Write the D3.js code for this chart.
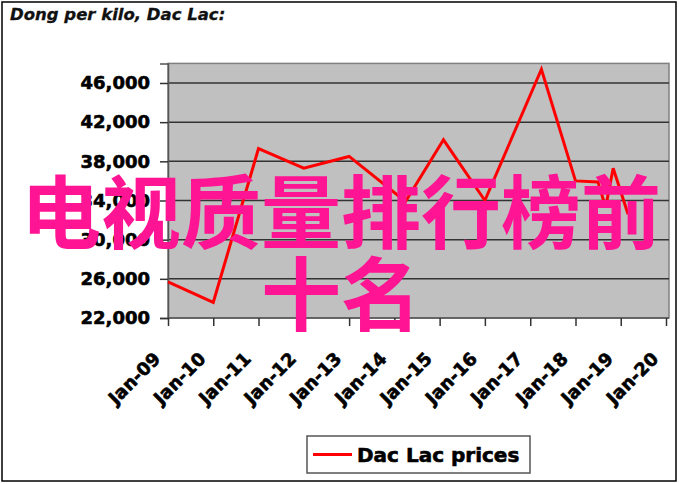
<!DOCTYPE html>
<html>
<head>
<meta charset="utf-8">
<script src="https://cdn.jsdelivr.net/npm/d3@7"></script>
<style>
  html, body { margin: 0; padding: 0; background: #fff; }
  svg { display: block; }
</style>
</head>
<body>
<svg id="chart" width="679" height="484"></svg>
<script>
// ---- data ----
const dates = ["2009-01-01","2010-01-01","2011-01-01","2012-01-01","2013-01-01","2014-04-01","2015-02-01","2016-01-01","2017-04-01","2018-01-01","2018-07-01","2018-09-01","2018-11-01","2019-03-01"];
const prices = [25700, 23600, 39300, 37300, 38500, 33900, 40200, 34000, 47400, 36000, 35900, 33300, 37300, 32600];
const yTicks = [22000, 26000, 30000, 34000, 38000, 42000, 46000];
const xTickYears = [2009, 2010, 2011, 2012, 2013, 2014, 2015, 2016, 2017, 2018, 2019, 2020];
const titleText = "Dong per kilo, Dac Lac:";
const seriesName = "Dac Lac prices";
const overlayLines = ["电视质量排行榜前", "十名"];

const parse = d3.timeParse("%Y-%m-%d");
const data = dates.map((d, i) => ({ date: parse(d), value: prices[i] }));

const svg = d3.select("#chart");
const W = 679, H = 484;

// outer frame
svg.append("rect").attr("x", 2).attr("y", 2).attr("width", W - 5).attr("height", H - 5)
  .attr("fill", "#fff").attr("stroke", "#000").attr("stroke-width", 1.5);

// title
svg.append("text").attr("x", 10).attr("y", 20)
  .attr("font-family", "DejaVu Sans").attr("font-weight", "bold").attr("font-style", "italic")
  .attr("font-size", 16.5).attr("fill", "#111").attr("stroke", "#111").attr("stroke-width", 0.3)
  .text(titleText);

const plot = { left: 168, top: 63.4, right: 669, bottom: 318 };

const x = d3.scaleTime()
  .domain([new Date(2009, 0, 1), new Date(2020, 0, 1)])
  .range([plot.left, 666]);
const y = d3.scaleLinear().domain([22000, 48000]).range([plot.bottom, plot.top]);

// plot background
svg.append("rect").attr("x", plot.left).attr("y", plot.top)
  .attr("width", plot.right - plot.left).attr("height", plot.bottom - plot.top)
  .attr("fill", "#c0c0c0").attr("stroke", "#808080").attr("stroke-width", 1.5);

// gridlines
svg.append("g").selectAll("line").data(yTicks.filter(v => v > 22000)).join("line")
  .attr("x1", plot.left).attr("x2", plot.right)
  .attr("y1", d => y(d)).attr("y2", d => y(d))
  .attr("stroke", "#333").attr("stroke-width", 1.5);

// y axis
const yAxis = d3.axisLeft(y).tickValues(yTicks).tickSize(8).tickPadding(10)
  .tickFormat(d3.format(",.0f"));
const gy = svg.append("g").attr("transform", `translate(${plot.left},0)`).call(yAxis);
gy.select(".domain").attr("stroke", "#555").attr("stroke-width", 1.5);
gy.selectAll(".tick line").attr("stroke", "#333").attr("stroke-width", 1.5);
gy.selectAll(".tick text").attr("font-family", "DejaVu Sans").attr("font-weight", "bold")
  .attr("font-size", 18).attr("fill", "#000").attr("stroke", "#000").attr("stroke-width", 0.6);

// x axis
const xTicks = xTickYears.map(yr => new Date(yr, 0, 1));
const xAxis = d3.axisBottom(x).tickValues(xTicks).tickSize(8).tickSizeOuter(0)
  .tickFormat(d3.timeFormat("%b-%y"));
const gx = svg.append("g").attr("transform", `translate(0,${plot.bottom})`).call(xAxis);
gx.select(".domain").attr("stroke", "#555").attr("stroke-width", 1.5)
  .attr("d", `M${plot.left},0H${plot.right}`);
gx.selectAll(".tick line").attr("stroke", "#333").attr("stroke-width", 1.5);
gx.selectAll(".tick text")
  .attr("font-family", "DejaVu Sans").attr("font-weight", "bold").attr("font-size", 18)
  .attr("fill", "#000").attr("stroke", "#000").attr("stroke-width", 0.6)
  .attr("text-anchor", "end").attr("dy", 0).attr("y", 0)
  .attr("transform", "translate(-7,42) rotate(-45)");

// line
const line = d3.line().x(d => x(d.date)).y(d => y(d.value));
svg.append("path").datum(data).attr("d", line)
  .attr("fill", "none").attr("stroke", "#ff0000").attr("stroke-width", 3)
  .attr("stroke-linejoin", "miter");

// legend
const lg = svg.append("g");
lg.append("rect").attr("x", 307).attr("y", 436).attr("width", 223).attr("height", 37)
  .attr("fill", "#fff").attr("stroke", "#555").attr("stroke-width", 1.5);
lg.append("line").attr("x1", 313).attr("x2", 352).attr("y1", 454.5).attr("y2", 454.5)
  .attr("stroke", "#ff0000").attr("stroke-width", 3);
lg.append("text").attr("x", 357).attr("y", 462)
  .attr("font-family", "DejaVu Sans").attr("font-weight", "bold").attr("font-size", 20)
  .attr("fill", "#000").attr("stroke", "#000").attr("stroke-width", 0.6).text(seriesName);

// overlay text
const ov = svg.append("g");
ov.selectAll("text").data(overlayLines).join("text")
  .attr("x", 341).attr("y", (d, i) => 242 + i * 82)
  .attr("text-anchor", "middle")
  .attr("font-family", "Noto Sans CJK SC").attr("font-weight", 700)
  .attr("font-size", 80).attr("fill", "#ff1493").text(d => d);
</script>
</body>
</html>
